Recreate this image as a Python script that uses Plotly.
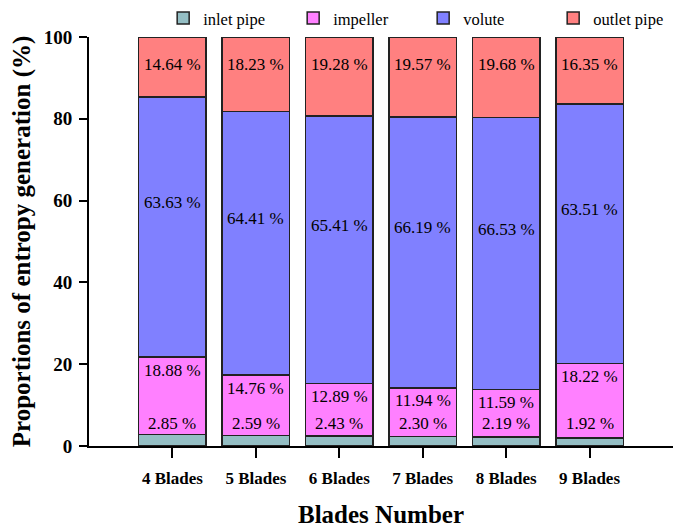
import plotly.graph_objects as go

blades = ['4 Blades', '5 Blades', '6 Blades', '7 Blades', '8 Blades', '9 Blades']
inlet_pipe = [2.85, 2.59, 2.43, 2.30, 2.19, 1.92]
impeller = [18.88, 14.76, 12.89, 11.94, 11.59, 18.22]
volute = [63.63, 64.41, 65.41, 66.19, 66.53, 63.51]
outlet_pipe = [14.64, 18.23, 19.28, 19.57, 19.68, 16.35]

series = [
    ('inlet pipe', inlet_pipe, '#94BEC4'),
    ('impeller', impeller, '#FF80FF'),
    ('volute', volute, '#8080FF'),
    ('outlet pipe', outlet_pipe, '#FF8080'),
]

FONT = 'Liberation Serif, Times New Roman, serif'

fig = go.Figure()
for name, vals, color in series:
    fig.add_trace(go.Bar(
        x=blades, y=vals, name=name,
        marker=dict(color=color, line=dict(color='#222222', width=1.5)),
        hoverinfo='y+name',
    ))

# value labels, placed by hand like in the original figure
for i, b in enumerate(blades):
    top_imp = inlet_pipe[i] + impeller[i]
    top_vol = top_imp + volute[i]
    labels = [
        (5.4, inlet_pipe[i]),
        (top_imp - 3.2, impeller[i]),
        ((top_imp + top_vol) / 2 + 6, volute[i]),
        (93.2, outlet_pipe[i]),
    ]
    for y, v in labels:
        fig.add_annotation(x=b, y=y, text=f'{v:.2f} %', showarrow=False,
                           font=dict(family=FONT, size=17, color='black'))

fig.update_layout(
    width=685, height=528,
    margin=dict(l=81, r=20, t=5, b=90, autoexpand=False),
    barmode='stack', bargap=0.19,
    plot_bgcolor='white', paper_bgcolor='white',
    font=dict(family=FONT, color='black'),
    showlegend=True,
    legend=dict(orientation='h', x=0.127, xanchor='left', y=1.028, yanchor='top',
                font=dict(family=FONT, size=16.5), traceorder='normal',
                entrywidth=85, bgcolor='rgba(0,0,0,0)'),
)
fig.update_xaxes(
    range=[-1, 6], showline=True, linecolor='black', linewidth=2,
    ticks='outside', ticklen=10, tickwidth=2, tickcolor='black',
    ticklabelstandoff=6,
    tickfont=dict(family=FONT, size=17, color='black', weight='bold'),
    title=dict(text='Blades Number', font=dict(family=FONT, size=25, weight='bold'), standoff=18),
    showgrid=False, automargin=False,
)
fig.update_yaxes(
    domain=[0, 0.9446], range=[0, 100], showline=True, linecolor='black', linewidth=2,
    ticks='outside', ticklen=8, tickwidth=2, tickcolor='black',
    tickvals=[0, 20, 40, 60, 80, 100], ticklabelstandoff=3,
    tickfont=dict(family=FONT, size=19, color='black', weight='bold'),
    title=dict(text='Proportions of entropy generation (%)',
               font=dict(family=FONT, size=25, weight='bold'), standoff=25),
    showgrid=False, zeroline=False, automargin=False,
)

fig.write_html('out.html')
